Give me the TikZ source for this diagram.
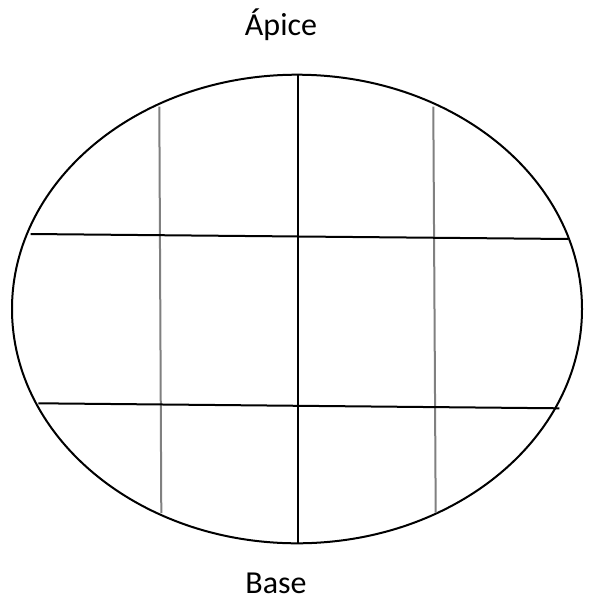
\documentclass[tikz,border=0pt]{standalone}
\usepackage{fontspec}
\setmainfont{Carlito}
\begin{document}
\begin{tikzpicture}[x=1pt,y=-1pt,
  blk/.style={line width=2pt,black},
  gry/.style={line width=2pt,color=black!50},
  lbl/.style={font=\fontsize{32}{38}\selectfont,inner sep=0pt,anchor=base}]
\useasboundingbox (0,0) rectangle (590,600);
\draw[blk] (297,309) ellipse [x radius=285, y radius=234.3];
% vertical lines
\coordinate (ct) at (297.5,74.7); \coordinate (cb) at (297.5,543.3);
\draw[blk] (ct) -- (cb);
\coordinate (lt) at (159.3,106.7); \coordinate (lb) at (161.3,513);
\draw[gry] (lt) -- (lb);
\coordinate (rt) at (433.3,106.7); \coordinate (rb) at (435.7,512.7);
\draw[gry] (rt) -- (rb);
% horizontal lines
\coordinate (h1l) at (30.7,234); \coordinate (h1r) at (568,239);
\draw[blk] (h1l) -- (h1r);
\coordinate (h2l) at (38.3,403.3); \coordinate (h2r) at (559.3,408.3);
\draw[blk] (h2l) -- (h2r);
\node[lbl] (apice) at (281,35) {Ápice};
\node[lbl] (base) at (276,593.5) {Base};
\end{tikzpicture}
\end{document}
